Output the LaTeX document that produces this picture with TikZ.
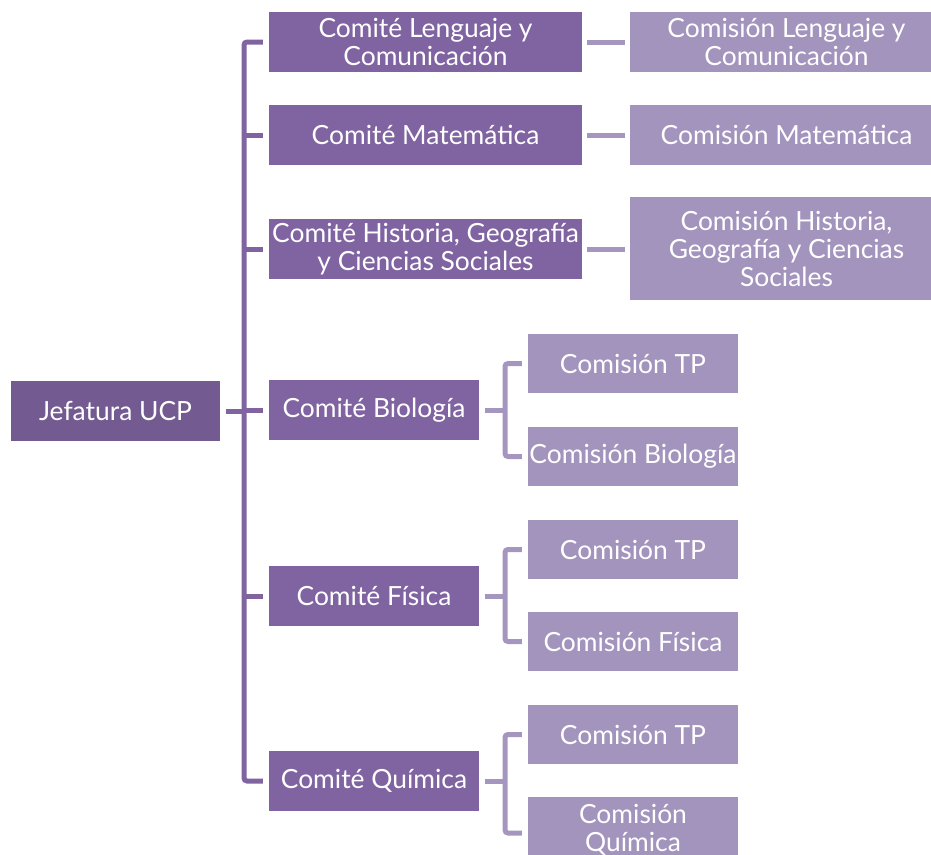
\documentclass[tikz,border=0pt]{standalone}
\usepackage{fontspec}
\setmainfont{Lato}
\definecolor{jefcol}{RGB}{115,91,146}
\definecolor{comcol}{RGB}{128,100,162}
\definecolor{miscol}{RGB}{163,148,189}
\definecolor{sublinecol}{RGB}{165,150,192}
\tikzset{
  basebox/.style={draw=none, text=white, align=center, inner sep=0pt, minimum height=60pt,
    font=\fontsize{26.4}{28}\selectfont},
  jefbox/.style={basebox, fill=jefcol, minimum width=209pt},
  comwide/.style={basebox, fill=comcol, minimum width=313pt},
  comnarrow/.style={basebox, fill=comcol, minimum width=210pt},
  miswide/.style={basebox, fill=miscol, minimum width=313pt},
  misnarrow/.style={basebox, fill=miscol, minimum width=210pt, minimum height=59pt},
  trunkline/.style={draw=comcol, line width=5pt, rounded corners=3pt},
  subline/.style={draw=sublinecol, line width=5pt, rounded corners=3pt},
}
\begin{document}
\begin{tikzpicture}[x=1pt,y=-1pt]
\useasboundingbox (0,0) rectangle (931,854);
\clip (0,0) rectangle (931,854);
% nodes
\node[jefbox] (jef) at (115.5,411) {Jefatura UCP};
\node[comwide] (c1) at (425.5,42) {Comité Lenguaje y\\Comunicación};
\node[comwide] (c2) at (425.5,135) {Comité Matemática};
\node[comwide] (c3) at (425.5,249) {Comité Historia, Geografía\\y Ciencias Sociales};
\node[comnarrow] (c4) at (374,410) {Comité Biología};
\node[comnarrow] (c5) at (374,596) {Comité Física};
\node[comnarrow] (c6) at (374,781) {Comité Química};
\node[miswide] (m1) at (786.5,42) {Comisión Lenguaje y\\Comunicación};
\node[miswide] (m2) at (786.5,135) {Comisión Matemática};
\node[miswide, minimum height=103pt] (m3) at (786.5,248.5) {Comisión Historia,\\Geografía y Ciencias\\Sociales};
\node[misnarrow] (m4a) at (633,363.5) {Comisión TP};
\node[misnarrow] (m4b) at (633,456.5) {Comisión Biología};
\node[misnarrow] (m5a) at (633,549.5) {Comisión TP};
\node[misnarrow] (m5b) at (633,641.5) {Comisión Física};
\node[misnarrow] (m6a) at (633,734.5) {Comisión TP};
\node[misnarrow, minimum height=66pt] (m6b) at (633,830) {Comisión\\Química};
% trunk
\coordinate (tr) at (244,0);
\draw[trunkline] ([xshift=6pt]jef.east) -- (tr |- jef.east);
\draw[trunkline] ([xshift=-6pt]c1.west) -| (tr |- c6.west) -- ([xshift=-6pt]c6.west);
\foreach \c in {c2,c3,c4,c5}{
  \draw[trunkline] (tr |- \c.west) -- ([xshift=-6pt]\c.west);
}
% comite -> comision (wide)
\foreach \c/\m in {c1/m1,c2/m2,c3/m3}{
  \draw[subline] ([xshift=5pt]\c.east) -- ([xshift=-5pt]\m.west |- \c.east);
}
% brackets
\coordinate (bx) at (505,0);
\foreach \c/\a/\b in {c4/m4a/m4b,c5/m5a/m5b}{
  \draw[subline] ([xshift=6pt]\c.east) -- (bx |- \c.east);
  \draw[subline] ([xshift=-6pt]\a.west) -| (bx |- \b.west) -- ([xshift=-6pt]\b.west);
}
\coordinate (q6) at ([yshift=-3pt]m6b.west);
\draw[subline] ([xshift=6pt]c6.east) -- (bx |- c6.east);
\draw[subline] ([xshift=-6pt]m6a.west) -| (bx |- q6) -- ([xshift=-6pt]q6);
\end{tikzpicture}
\end{document}
